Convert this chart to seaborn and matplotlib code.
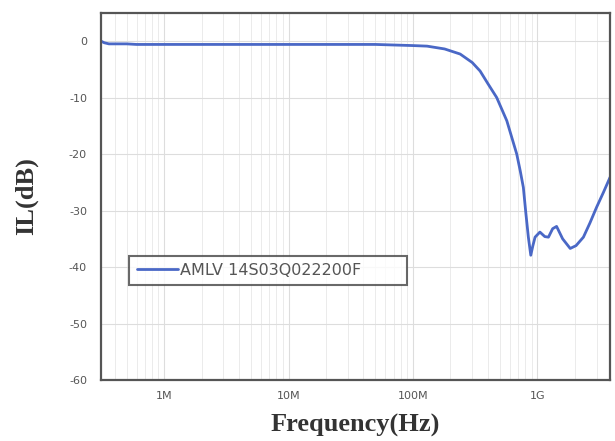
import seaborn as sns
import matplotlib.pyplot as plt
import matplotlib.ticker as mtick
import pandas as pd

# insertion loss curve
freq_hz = [3.1e5, 3.3e5, 3.6e5, 5e5, 6e5, 1e6, 1e7, 5e7, 7e7, 1e8, 1.3e8,
           1.8e8, 2.4e8, 3e8, 3.47e8, 4e8, 4.72e8, 5.69e8, 6.84e8, 7.3e8,
           7.73e8, 8.1e8, 8.48e8, 8.87e8, 9.2e8, 9.6e8, 1.05e9, 1.15e9,
           1.23e9, 1.33e9, 1.43e9, 1.6e9, 1.84e9, 2.05e9, 2.35e9, 2.65e9,
           3.0e9, 3.4e9, 3.85e9]
il_db = [0.0, -0.3, -0.5, -0.5, -0.6, -0.6, -0.6, -0.6, -0.7, -0.8, -0.9,
         -1.4, -2.3, -3.8, -5.3, -7.5, -10.0, -14.1, -20.0, -23.0,
         -25.9, -30.5, -34.7, -37.9, -36.3, -34.7, -33.8, -34.6,
         -34.7, -33.2, -32.8, -35.0, -36.7, -36.2, -34.7, -32.2,
         -29.4, -26.8, -24.1]
series_name = 'AMLV 14S03Q022200F'

x_ticks = [1e6, 1e7, 1e8, 1e9]
x_tick_labels = ['1M', '10M', '100M', '1G']
y_ticks = [0, -10, -20, -30, -40, -50, -60]

df = pd.DataFrame({'Frequency': freq_hz, 'IL': il_db, 'part': series_name})

sns.set_style('white')
plt.rcParams['axes.unicode_minus'] = False
fig = plt.figure(figsize=(6.15, 4.41), dpi=100)
ax = fig.add_axes([0.164, 0.138, 0.828, 0.833])

sns.lineplot(data=df, x='Frequency', y='IL', hue='part',
             palette=['#4a68c6'], linewidth=2, ax=ax)

ax.set_xscale('log')
ax.set_xlim(3.1e5, 3.85e9)
ax.set_ylim(-60, 5)

ax.set_xticks(x_ticks)
ax.set_xticklabels(x_tick_labels)
ax.xaxis.set_minor_locator(mtick.LogLocator(base=10, subs=range(2, 10), numticks=20))
ax.xaxis.set_minor_formatter(mtick.NullFormatter())
ax.set_yticks(y_ticks)

ax.grid(which='major', color='#dddddd', linewidth=0.8)
ax.grid(which='minor', axis='x', color='#e8e8e8', linewidth=0.6)

ax.tick_params(axis='x', which='major', direction='in', length=4, width=1.2,
               color='#444444', labelsize=8, labelcolor='#555555', pad=8)
ax.tick_params(axis='x', which='minor', length=0)
ax.tick_params(axis='y', direction='out', length=4, width=1.2,
               color='#444444', labelsize=8, labelcolor='#555555', pad=6)

for s in ax.spines.values():
    s.set_color('#555555')
    s.set_linewidth(1.6)

ax.set_xlabel('Frequency(Hz)', family='Liberation Serif', fontweight='bold',
              fontsize=19, color='#333333', labelpad=9)
ax.set_ylabel('IL(dB)', family='Liberation Serif', fontweight='bold',
              fontsize=19, color='#333333', labelpad=22)

leg = ax.legend(loc='lower left', bbox_to_anchor=(0.056, 0.259, 0.545, 0.087),
                mode='expand', borderaxespad=0, frameon=True, fancybox=False,
                fontsize=11.5, handlelength=2.6, borderpad=0.45,
                handletextpad=0.1)
leg.get_frame().set_edgecolor('#444444')
leg.get_frame().set_linewidth(1.5)
for t in leg.get_texts():
    t.set_color('#555555')

plt.savefig('out.png', dpi=100)
